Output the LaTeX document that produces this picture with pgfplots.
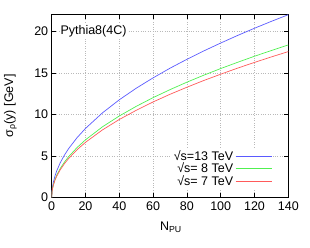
\documentclass[border=0pt]{standalone}
\usepackage{fontspec}
\setmainfont{Liberation Sans}
\usepackage{pgfplots}
\pgfplotsset{compat=1.18}
\definecolor{cblue}{RGB}{90,90,255}
\definecolor{cgreen}{RGB}{80,240,80}
\definecolor{cred}{RGB}{255,90,90}
\begin{document}
\begin{tikzpicture}
\begin{axis}[
  scale only axis,
  width=236.6pt, height=182.8pt,
  xmin=0, xmax=140, ymin=0, ymax=22,
  xtick={0,20,...,140}, ytick={0,5,...,20},
  tick align=inside, tick pos=both,
  major tick length=4pt,
  grid=major,
  grid style={gray!55, dotted, line width=0.5pt},
  axis line style={line width=0.8pt},
  tick style={line width=0.6pt, black},
  /pgf/number format/assume math mode=true,
  ticklabel style={font=\fontsize{12.5}{14}\selectfont},
  xticklabel style={yshift=-1pt},
  xlabel={N\textsubscript{PU}},
  ylabel={σ\textsubscript{ρ}(y) [GeV]},
  label style={font=\fontsize{12.5}{14}\selectfont},
  xlabel style={at={(axis description cs:0.504,-0.165)}, anchor=center},
  ylabel style={at={(axis description cs:-0.175,0.5)}, anchor=center},
  legend plot pos=right,
  legend cell align=right,
  legend style={draw=none, fill=white, font=\fontsize{12.5}{14}\selectfont,
    at={(axis cs:131,0.9)}, anchor=south east, row sep=-3pt, inner sep=1pt},
  legend image code/.code={\draw[#1] (0pt,0pt) -- (36pt,0pt);},
]
\addplot[cblue, line width=0.7pt] coordinates {
(0,0) (0.25,0.93) (0.5,1.31) (1,1.86) (2,2.63) (3,3.22) (5,4.16) (7.5,5.09)
(10,5.88) (15,7.20) (20,8.31) (30,10.18) (40,11.76) (50,13.15) (60,14.40)
(70,15.56) (80,16.63) (90,17.64) (100,18.59) (110,19.50) (120,20.37) (130,21.20) (140,22.00)};
\addlegendentry{√s=13 TeV}
\addplot[cgreen, line width=0.7pt] coordinates {
(0,0) (0.25,0.78) (0.5,1.10) (1,1.55) (2,2.19) (3,2.69) (5,3.47) (7.5,4.25)
(10,4.91) (15,6.01) (20,6.94) (30,8.50) (40,9.81) (50,10.97) (60,12.02)
(70,12.98) (80,13.88) (90,14.72) (100,15.52) (110,16.27) (120,17.00) (130,17.69) (140,18.36)};
\addlegendentry{√s= 8 TeV}
\addplot[cred, line width=0.7pt] coordinates {
(0,0) (0.25,0.74) (0.5,1.05) (1,1.48) (2,2.10) (3,2.57) (5,3.32) (7.5,4.06)
(10,4.69) (15,5.75) (20,6.64) (30,8.13) (40,9.39) (50,10.49) (60,11.50)
(70,12.42) (80,13.27) (90,14.08) (100,14.84) (110,15.57) (120,16.26) (130,16.92) (140,17.56)};
\addlegendentry{√s= 7 TeV}
\node[fill=white, anchor=west, inner sep=1pt, font=\fontsize{12.5}{14}\selectfont] at (axis cs:4.5,20) {Pythia8(4C)};
\end{axis}
\path ([xshift=-51.7pt,yshift=-50.5pt]current axis.south west) rectangle ([xshift=21.7pt,yshift=14.7pt]current axis.north east);
\end{tikzpicture}
\end{document}
